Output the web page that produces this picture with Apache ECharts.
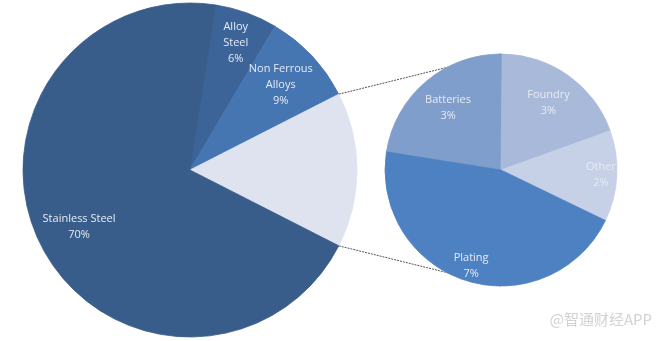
<!DOCTYPE html>
<html><head><meta charset="utf-8">
<script src="https://cdn.jsdelivr.net/npm/echarts@6/dist/echarts.min.js"></script>
<style>html,body{margin:0;padding:0;background:#fff}#c{width:659px;height:341px}</style>
</head><body><div id="c"></div>
<script>
// ---- data ----
const mainCategories = ['Alloy Steel', 'Non Ferrous Alloys', 'Other', 'Stainless Steel'];
const mainLabels = ['Alloy\nSteel', 'Non Ferrous\nAlloys', '', 'Stainless Steel'];
const mainValues = [6, 9, 15, 70];
const mainLabelRing = ['far', 'near', 'none', 'near'];
const subCategories = ['Batteries', 'Foundry', 'Other', 'Plating'];
const subValues = [3.4, 2.9, 1.9, 6.8];
const subLabelRing = ['near', 'near', 'far', 'far'];
const watermarkText = '@智通财经APP';

// ---- styles ----
const mainColors = ['#3C6499', '#4676B2', '#DEE3EF', '#385D8A'];
const subColors = ['#809ECC', '#A8B9DA', '#C6D0E6', '#4E81C1'];
const mainCenter = [190, 170], mainR = 167, mainStart = 81;
const subCenter = [501, 170], subR = 116, subStart = 171;
const font = 'Open Sans';

const chart = echarts.init(document.getElementById('c'), null, {renderer: 'canvas'});

const mkItem = c => ({color: c, borderColor: c, borderWidth: 0.8});
const mainData = mainCategories.map((n, i) => ({name: n, value: mainValues[i], itemStyle: mkItem(mainColors[i])}));
const subData = subCategories.map((n, i) => ({name: n, value: subValues[i], itemStyle: mkItem(subColors[i])}));

// connector endpoints derived from pie geometry
const total = mainValues.reduce((a, b) => a + b, 0);
const oi = mainCategories.indexOf('Other');
let before = 0; for (let i = 0; i < oi; i++) before += mainValues[i];
const th1 = ((90 - mainStart) + before / total * 360) * Math.PI / 180;
const th2 = ((90 - mainStart) + (before + mainValues[oi]) / total * 360) * Math.PI / 180;
const p1 = [mainCenter[0] + mainR * Math.sin(th1), mainCenter[1] - mainR * Math.cos(th1)];
const p2 = [mainCenter[0] + mainR * Math.sin(th2), mainCenter[1] - mainR * Math.cos(th2)];
const q1 = [subCenter[0], subCenter[1] - subR];
const q2 = [subCenter[0], subCenter[1] + subR];

const baseLabel = {show: true, position: 'inside', fontFamily: font, fontSize: 11, lineHeight: 16, color: '#E6EBF3'};

function overlay(center, radius, data, formatter, start) {
  return {
    type: 'pie', center: center, radius: radius, startAngle: start, silent: true,
    data: data.map(d => ({name: d.name, value: d.value, itemStyle: {color: 'rgba(0,0,0,0)', borderWidth: 0}})),
    label: Object.assign({}, baseLabel, {formatter: formatter}),
    labelLine: {show: false}, emphasis: {disabled: true}, z: 5
  };
}
const mainFmt = ring => p => mainLabelRing[p.dataIndex] === ring ? mainLabels[p.dataIndex] + '\n' + p.value + '%' : '';
const subFmt = ring => p => subLabelRing[p.dataIndex] === ring ? p.name + '\n' + Math.round(p.value) + '%' : '';

chart.setOption({
  animation: false,
  backgroundColor: '#ffffff',
  graphic: [
    {type: 'line', z: 0, shape: {x1: p1[0], y1: p1[1], x2: q1[0], y2: q1[1]}, style: {stroke: '#555', lineWidth: 1, lineDash: [2, 1]}},
    {type: 'line', z: 0, shape: {x1: p2[0], y1: p2[1], x2: q2[0], y2: q2[1]}, style: {stroke: '#555', lineWidth: 1, lineDash: [2, 1]}},
    {type: 'text', right: 7, top: 312, style: {text: watermarkText, fontFamily: 'Noto Sans CJK SC', fontSize: 15, fill: '#d2d2d2'}}
  ],
  series: [
    {type: 'pie', center: mainCenter, radius: mainR, startAngle: mainStart, data: mainData,
      label: {show: false}, labelLine: {show: false}, emphasis: {disabled: true}, z: 2},
    {type: 'pie', center: subCenter, radius: subR, startAngle: subStart, data: subData,
      label: {show: false}, labelLine: {show: false}, emphasis: {disabled: true}, z: 2},
    overlay(mainCenter, [76, mainR], mainData, mainFmt('near'), mainStart),
    overlay(mainCenter, [97, mainR], mainData, mainFmt('far'), mainStart),
    overlay(subCenter, [42, subR], subData, subFmt('near'), subStart),
    overlay(subCenter, [78, subR], subData, subFmt('far'), subStart)
  ]
});
</script></body></html>
